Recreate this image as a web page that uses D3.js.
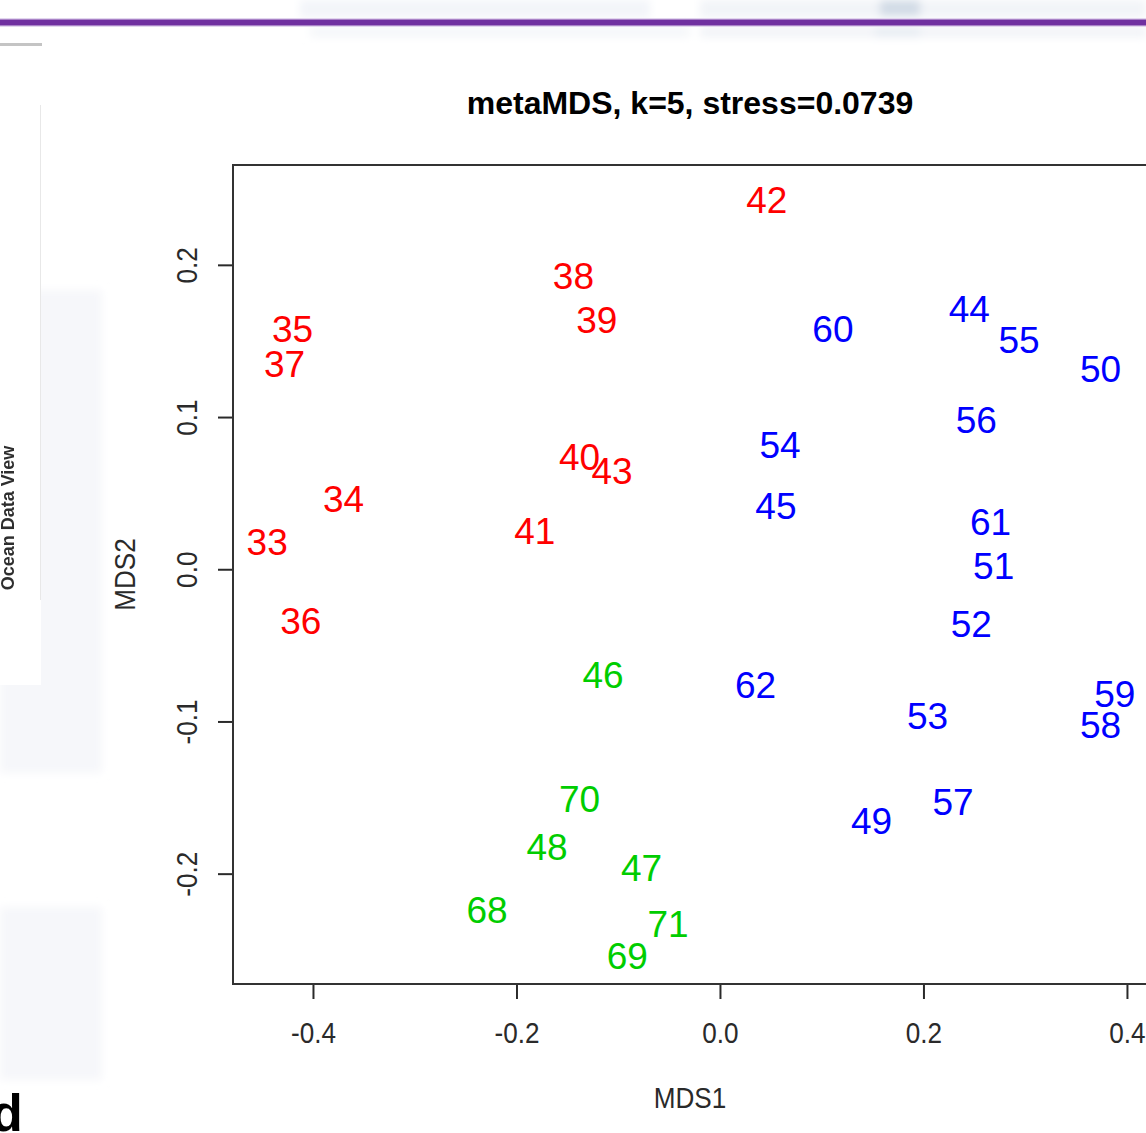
<!DOCTYPE html>
<html>
<head>
<meta charset="utf-8">
<script src="https://cdn.jsdelivr.net/npm/d3@7"></script>
<style>
  html, body { margin: 0; padding: 0; background: #ffffff; overflow: hidden; }
  svg { display: block; }
</style>
</head>
<body>
<svg id="chart" width="1146" height="1133"></svg>
<script>
// NMDS site scores (metaMDS, k = 5), labelled by station number
const siteLabels = ["33","34","35","36","37","38","39","40","41","42","43",
                    "44","45","49","50","51","52","53","54","55","56","57","58","59","60","61","62",
                    "46","47","48","68","69","70","71"];
const siteGroup  = ["a","a","a","a","a","a","a","a","a","a","a",
                    "b","b","b","b","b","b","b","b","b","b","b","b","b","b","b","b",
                    "c","c","c","c","c","c","c"];
const mds1 = [-0.445,-0.370,-0.420,-0.412,-0.428,-0.144,-0.121,-0.138,-0.182, 0.046,-0.106,
               0.245, 0.055, 0.149, 0.374, 0.269, 0.247, 0.204, 0.059, 0.294, 0.252, 0.229, 0.374, 0.388, 0.111, 0.266, 0.035,
              -0.115,-0.077,-0.170,-0.229,-0.091,-0.138,-0.051];
const mds2 = [ 0.018, 0.046, 0.158,-0.034, 0.135, 0.193, 0.164, 0.074, 0.025, 0.243, 0.065,
               0.171, 0.042,-0.165, 0.132, 0.002,-0.036,-0.096, 0.082, 0.151, 0.098,-0.153,-0.102,-0.082, 0.158, 0.031,-0.076,
              -0.069,-0.196,-0.182,-0.224,-0.254,-0.151,-0.233];

const groupNames  = ["a", "b", "c"];
const groupColors = ["#ff0000", "#0000ff", "#00cd00"];

const xTicks = [-0.4, -0.2, 0.0, 0.2, 0.4];
const xTickLabels = ["-0.4", "-0.2", "0.0", "0.2", "0.4"];
const yTicks = [-0.2, -0.1, 0.0, 0.1, 0.2];
const yTickLabels = ["-0.2", "-0.1", "0.0", "0.1", "0.2"];

const chartTitle = "metaMDS, k=5, stress=0.0739";
const xTitle = "MDS1";
const yTitle = "MDS2";

const svg = d3.select("#chart");

// ---------- slide backdrop ----------
const defs = svg.append("defs");
defs.append("filter").attr("id", "soft").attr("x", "-20%").attr("y", "-20%").attr("width", "140%").attr("height", "140%")
  .append("feGaussianBlur").attr("stdDeviation", 4);
defs.append("filter").attr("id", "softText")
  .append("feGaussianBlur").attr("stdDeviation", 0.5);

const deco = svg.append("g");
// faint header patches
deco.append("g").attr("filter", "url(#soft)").selectAll("rect")
  .data([
    [300, 0, 350, 18, "#f3f5f9"], [700, 0, 446, 18, "#f2f4f8"], [880, 0, 40, 16, "#d2dbe6"],
    [310, 27, 380, 10, "#f4f6f9"], [700, 27, 446, 10, "#f1f3f7"], [875, 27, 45, 10, "#e6ebf2"]
  ])
  .join("rect")
  .attr("x", d => d[0]).attr("y", d => d[1]).attr("width", d => d[2]).attr("height", d => d[3])
  .attr("fill", d => d[4]);

// purple rule
deco.append("rect").attr("x", 0).attr("y", 18).attr("width", 1146).attr("height", 9).attr("fill", "#e2d6ee");
deco.append("rect").attr("x", 0).attr("y", 19.5).attr("width", 1146).attr("height", 6).attr("fill", "#7030a0");

// left-hand panel remnants
deco.append("g").attr("filter", "url(#soft)").selectAll("rect")
  .data([[0, 290, 102, 483], [0, 907, 102, 173]])
  .join("rect")
  .attr("x", d => d[0]).attr("y", d => d[1]).attr("width", d => d[2]).attr("height", d => d[3])
  .attr("fill", "#f6f7fa");
deco.append("rect").attr("x", 0).attr("y", 43).attr("width", 42).attr("height", 3).attr("fill", "#c4c4c4");
deco.append("rect").attr("x", 0).attr("y", 58).attr("width", 41).attr("height", 627).attr("fill", "#ffffff");
deco.append("line").attr("x1", 40.5).attr("x2", 40.5).attr("y1", 105).attr("y2", 600)
  .attr("stroke", "#e8e8e8").attr("stroke-width", 1);
deco.append("text")
  .attr("transform", "translate(14,518) rotate(-90)")
  .attr("text-anchor", "middle")
  .attr("font-family", "Liberation Sans, Arial, sans-serif")
  .attr("font-weight", "bold").attr("font-size", 18)
  .attr("fill", "#2e2e2e").attr("filter", "url(#softText)")
  .text("Ocean Data View");
deco.append("text")
  .attr("x", -9).attr("y", 1131)
  .attr("font-family", "Liberation Sans, Arial, sans-serif")
  .attr("font-weight", "bold").attr("font-size", 52)
  .attr("fill", "#000")
  .text("d");

// ---------- plot ----------
const plot = { left: 233, right: 1147, top: 165, bottom: 984 };

const x = d3.scaleLinear().domain([-0.4786, 0.4197]).range([plot.left, plot.right]);
const y = d3.scaleLinear().domain([-0.2725, 0.2656]).range([plot.bottom, plot.top]);
const color = d3.scaleOrdinal().domain(groupNames).range(groupColors);

const axisFont = "Liberation Sans, Arial, Helvetica, sans-serif";
const axisColor = "#2a2a2a";

// x axis
const xAxis = svg.append("g")
  .attr("transform", `translate(0,${plot.bottom})`)
  .call(d3.axisBottom(x).tickValues(xTicks).tickSize(15).tickPadding(0)
        .tickFormat((d, i) => xTickLabels[i]));
xAxis.select(".domain").remove();
xAxis.selectAll(".tick line").attr("stroke", axisColor).attr("stroke-width", 2);
xAxis.selectAll(".tick text")
  .attr("y", 0).attr("dy", null)
  .attr("transform", "translate(0,59) scale(0.87,1)")
  .attr("font-family", axisFont).attr("font-size", 30).attr("fill", axisColor);

// y axis
const yAxis = svg.append("g")
  .attr("transform", `translate(${plot.left},0)`)
  .call(d3.axisLeft(y).tickValues(yTicks).tickSize(15).tickPadding(0)
        .tickFormat((d, i) => yTickLabels[i]));
yAxis.select(".domain").remove();
yAxis.selectAll(".tick line").attr("stroke", axisColor).attr("stroke-width", 2);
yAxis.selectAll(".tick text")
  .attr("x", 0).attr("dy", null).attr("y", 0)
  .attr("text-anchor", "middle")
  .attr("transform", "translate(-36,0) rotate(-90) scale(0.87,1)")
  .attr("font-family", axisFont).attr("font-size", 30).attr("fill", axisColor);

// frame
svg.append("rect")
  .attr("x", plot.left).attr("y", plot.top)
  .attr("width", plot.right - plot.left).attr("height", plot.bottom - plot.top)
  .attr("fill", "none").attr("stroke", "#333").attr("stroke-width", 2);

// titles
svg.append("text")
  .attr("x", (plot.left + plot.right) / 2).attr("y", 114)
  .attr("text-anchor", "middle")
  .attr("font-family", axisFont).attr("font-weight", "bold").attr("font-size", 32)
  .attr("fill", "#000")
  .text(chartTitle);

svg.append("text")
  .attr("transform", `translate(${(plot.left + plot.right) / 2},1108) scale(0.87,1)`)
  .attr("text-anchor", "middle")
  .attr("font-family", axisFont).attr("font-size", 30).attr("fill", axisColor)
  .text(xTitle);

svg.append("text")
  .attr("transform", `translate(135,${(plot.top + plot.bottom) / 2}) rotate(-90) scale(0.87,1)`)
  .attr("text-anchor", "middle")
  .attr("font-family", axisFont).attr("font-size", 30).attr("fill", axisColor)
  .text(yTitle);

// site labels drawn at their ordination scores
const sites = siteLabels.map((s, i) => ({ label: s, g: siteGroup[i], x: mds1[i], y: mds2[i] }));
const labelSize = 37;
svg.append("g").selectAll("text")
  .data(sites)
  .join("text")
  .attr("x", d => x(d.x))
  .attr("y", d => y(d.y) + labelSize * 0.358)
  .attr("text-anchor", "middle")
  .attr("font-family", axisFont).attr("font-size", labelSize)
  .attr("fill", d => color(d.g))
  .text(d => d.label);
</script>
</body>
</html>
